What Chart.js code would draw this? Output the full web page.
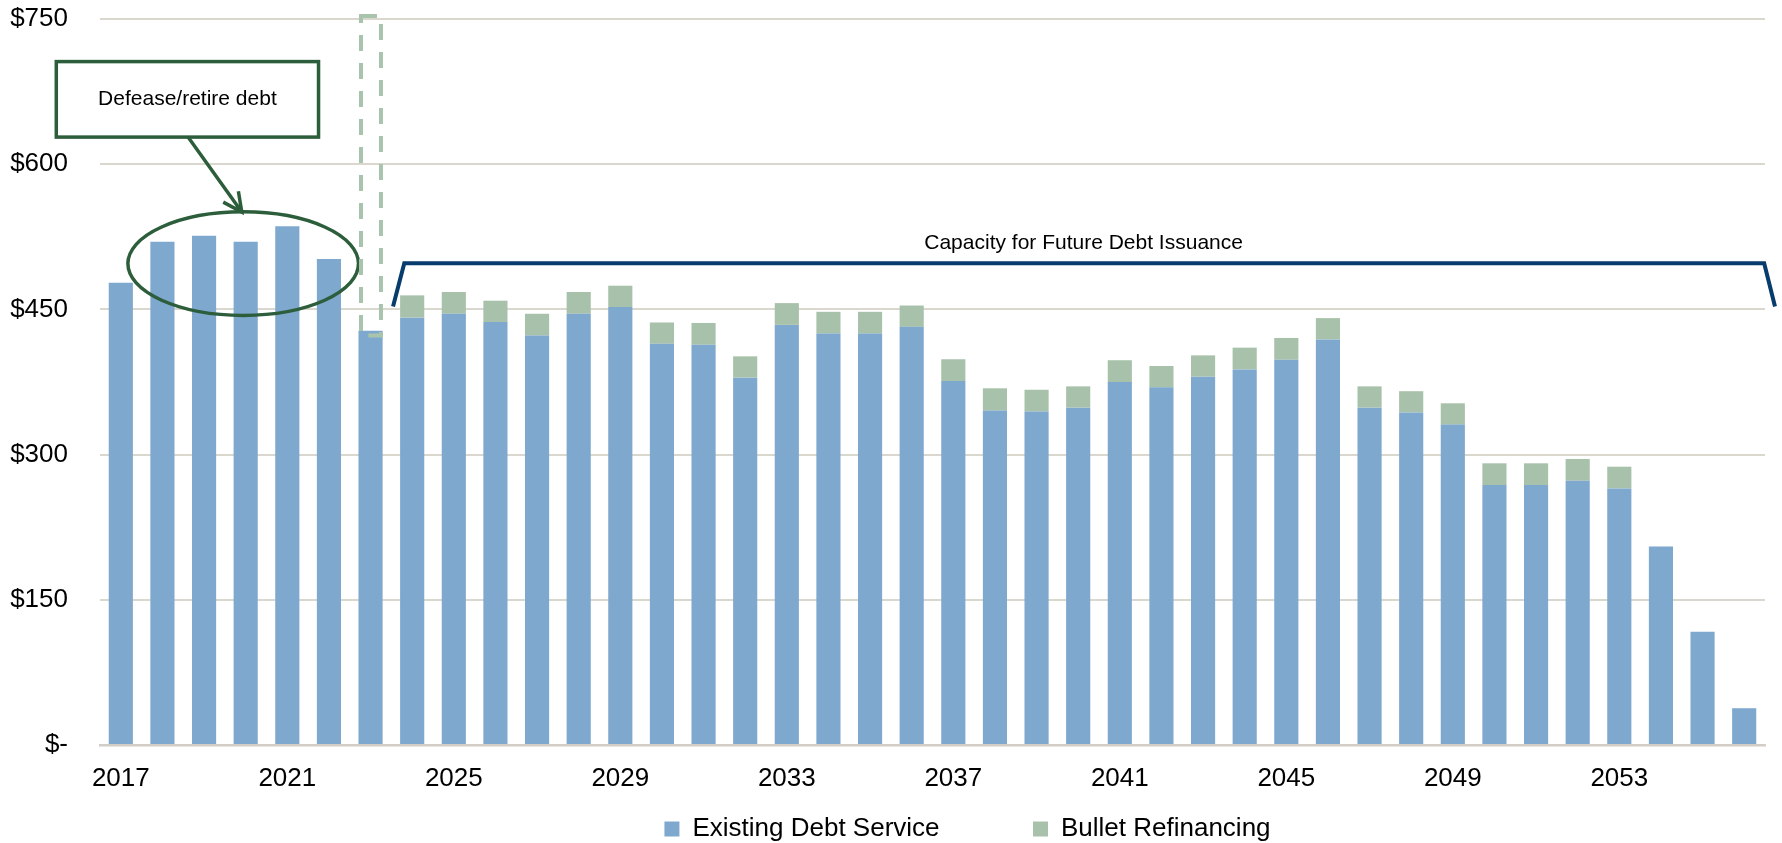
<!DOCTYPE html>
<html>
<head>
<meta charset="utf-8">
<script src="https://cdn.jsdelivr.net/npm/chart.js@4.4.1/dist/chart.umd.min.js"></script>
<style>
  body { margin: 0; background: #fff; }
  canvas { display: block; }
</style>
</head>
<body>
<canvas id="debtChart" width="1782" height="843"></canvas>
<script>
const years = [
  '2017', '2018', '2019', '2020', '2021', '2022', '2023', '2024', '2025', '2026',
  '2027', '2028', '2029', '2030', '2031', '2032', '2033', '2034', '2035', '2036',
  '2037', '2038', '2039', '2040', '2041', '2042', '2043', '2044', '2045', '2046',
  '2047', '2048', '2049', '2050', '2051', '2052', '2053', '2054', '2055', '2056'
];

// $ millions
const existingDebtService = [
  477.5, 520, 526, 520, 536, 502, 428, 441.5, 445.5, 437,
  423, 445.5, 452.5, 414.5, 413.5, 379.5, 434, 425, 425, 432,
  376, 345.5, 344.5, 348.5, 375, 369.5, 380.5, 388, 398, 419,
  348.5, 343.5, 331, 268.5, 268.5, 273, 265, 205, 117, 38
];

const bulletRefinancing = [
  0, 0, 0, 0, 0, 0, 0, 23, 22.5, 22,
  22.5, 22.5, 22, 22, 22.5, 22, 22.5, 22.5, 22.5, 22,
  22.5, 23, 22.5, 22, 22.5, 22, 22, 22.5, 22.5, 22,
  22, 22, 22, 22.5, 22.5, 22.5, 22.5, 0, 0, 0
];

const yTicks = [0, 150, 300, 450, 600, 750];
const yearLabelEvery = 4;

const BLUE = '#7fa8cf';
const GREEN = '#a8c1aa';

Chart.defaults.font.family = "'Liberation Sans', Arial, sans-serif";
Chart.defaults.color = '#000';

// callouts, placed in data units (category index, $ value)
const annotate = {
  id: 'annotate',
  afterDraw(chart) {
    const { ctx, scales: { x, y } } = chart;
    const px = i => x.getPixelForValue(i);
    const py = v => y.getPixelForValue(v);
    ctx.save();

    // "Defease/retire debt" box, arrow and ellipse
    ctx.strokeStyle = '#2d5e3b';
    ctx.lineWidth = 3.5;
    const bx0 = px(-1.55), bx1 = px(4.75), by0 = py(706), by1 = py(628);
    ctx.strokeRect(bx0, by0, bx1 - bx0, by1 - by0);
    ctx.fillStyle = '#000';
    ctx.font = "21px 'Liberation Sans', Arial, sans-serif";
    ctx.textAlign = 'center';
    ctx.textBaseline = 'middle';
    ctx.fillText('Defease/retire debt', (bx0 + bx1) / 2, (by0 + by1) / 2);

    const ax0 = px(1.615), ay0 = py(628), ax1 = px(2.906), ay1 = py(550.6);
    const ang = Math.atan2(ay1 - ay0, ax1 - ax0);
    ctx.beginPath();
    ctx.moveTo(ax0, ay0);
    ctx.lineTo(ax1, ay1);
    ctx.moveTo(ax1 - 21 * Math.cos(ang - 0.46), ay1 - 21 * Math.sin(ang - 0.46));
    ctx.lineTo(ax1, ay1);
    ctx.lineTo(ax1 - 21 * Math.cos(ang + 0.46), ay1 - 21 * Math.sin(ang + 0.46));
    ctx.stroke();

    const ex = px(2.94), ey = py(497.3);
    ctx.beginPath();
    ctx.ellipse(ex, ey, px(2.94 + 2.77) - ex, py(497.3 - 53.5) - ey, 0, 0, Math.PI * 2);
    ctx.stroke();

    // dashed frame round 2023
    ctx.strokeStyle = '#a9c4ac';
    ctx.lineWidth = 4;
    ctx.setLineDash([16, 12]);
    const dx0 = px(5.77), dx1 = px(6.25), dy0 = py(753), dy1 = py(423);
    ctx.strokeRect(dx0, dy0, dx1 - dx0, dy1 - dy0);
    ctx.setLineDash([]);

    // capacity bracket
    ctx.strokeStyle = '#073c6d';
    ctx.lineWidth = 4;
    ctx.beginPath();
    ctx.moveTo(px(6.54), py(453));
    ctx.lineTo(px(6.81), py(497.6));
    ctx.lineTo(px(39.48), py(497.6));
    ctx.lineTo(px(39.74), py(453));
    ctx.stroke();
    ctx.fillText('Capacity for Future Debt Issuance', px(23.13), py(518.3));

    ctx.restore();
  }
};

// legend sits right of centre in the original
const legendNudge = {
  id: 'legendNudge',
  afterLayout(chart) {
    const legend = chart.legend;
    legend.left += 85;
    legend.right += 85;
    legend.top += 9;
    legend.bottom += 9;
  }
};

new Chart(document.getElementById('debtChart'), {
  type: 'bar',
  data: {
    labels: years,
    datasets: [
      {
        label: 'Existing Debt Service',
        data: existingDebtService,
        backgroundColor: BLUE,
        borderWidth: 0
      },
      {
        label: 'Bullet Refinancing',
        data: bulletRefinancing,
        backgroundColor: GREEN,
        borderWidth: 0
      }
    ]
  },
  options: {
    responsive: false,
    animation: false,
    devicePixelRatio: 1,
    layout: { padding: { top: 19, right: 17, bottom: 0, left: 0 } },
    datasets: { bar: { barPercentage: 0.58, categoryPercentage: 1 } },
    scales: {
      x: {
        stacked: true,
        grid: { display: false, drawTicks: false },
        border: { display: true, color: '#d2cec5', width: 2.5 },
        afterFit: scale => { scale.height = 48; },
        ticks: {
          autoSkip: false,
          maxRotation: 0,
          padding: 18,
          font: { size: 26 },
          callback: (v, i) => (i % yearLabelEvery === 0 ? years[i] : '')
        }
      },
      y: {
        stacked: true,
        min: yTicks[0],
        max: yTicks[yTicks.length - 1],
        afterBuildTicks: scale => { scale.ticks = yTicks.map(value => ({ value })); },
        afterFit: scale => {
          scale.width = 100;
          scale.paddingTop = 0;
          scale.paddingBottom = 0;
        },
        grid: { color: '#dad7ce', lineWidth: 2, drawTicks: false },
        border: { display: false },
        ticks: {
          padding: 32,
          font: { size: 26 },
          callback: v => (v === 0 ? '$-' : '$' + v)
        }
      }
    },
    plugins: {
      tooltip: { enabled: false },
      legend: {
        position: 'bottom',
        labels: {
          boxWidth: 15,
          boxHeight: 15,
          padding: 14,
          font: { size: 26 },
          generateLabels(chart) {
            const items = Chart.defaults.plugins.legend.labels.generateLabels(chart);
            items[0].text += ' '.repeat(11);
            return items;
          }
        }
      }
    }
  },
  plugins: [annotate, legendNudge]
});
</script>
</body>
</html>
